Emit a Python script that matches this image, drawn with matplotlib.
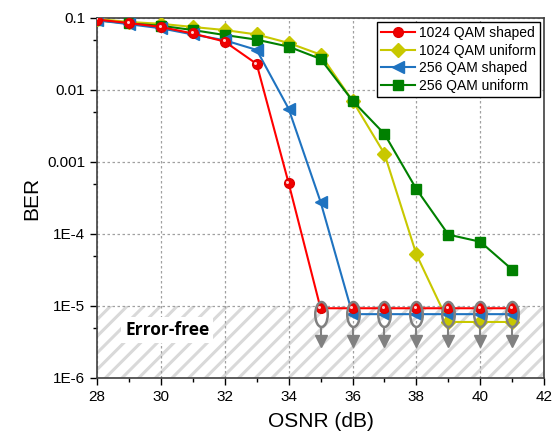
import numpy as np
import matplotlib
matplotlib.use("Agg")
import matplotlib.pyplot as plt
from matplotlib.path import Path
import matplotlib.transforms as mtransforms

plt.rcParams['font.family'] = ['Liberation Sans', 'DejaVu Sans']
plt.rcParams['hatch.linewidth'] = 2.2
plt.rcParams['hatch.color'] = '#d9d9d9'

# data
osnr = [28, 29, 30, 31, 32, 33, 34, 35, 36, 37, 38, 39, 40, 41]
ber_1024_shaped = [0.095, 0.085, 0.075, 0.061, 0.047, 0.023, 5.1e-4,
                   9.3e-6, 9.3e-6, 9.3e-6, 9.3e-6, 9.3e-6, 9.3e-6, 9.3e-6]
ber_1024_uniform = [0.097, 0.088, 0.083, 0.075, 0.068, 0.059, 0.045, 0.031,
                    0.0071, 0.0013, 5.2e-5, 6.0e-6, 6.0e-6, 6.0e-6]
ber_256_shaped = [0.093, 0.082, 0.072, 0.059, 0.049, 0.036, 0.0055, 2.8e-4,
                  7.7e-6, 7.7e-6, 7.7e-6, 7.7e-6, 7.7e-6, 7.7e-6]
ber_256_uniform = [0.093, 0.084, 0.078, 0.068, 0.058, 0.050, 0.040, 0.027,
                   0.0071, 0.00245, 4.2e-4, 9.8e-5, 7.8e-5, 3.2e-5]

# error-free markers (ellipse + down arrow)
free_x = [35, 36, 37, 38, 39, 40, 41]
ellipse_y = 7.7e-6
arrow_top = 5.1e-6
arrow_tip = 3.3e-6

xticks = [28, 30, 32, 34, 36, 38, 40, 42]
yticks = [1e-6, 1e-5, 1e-4, 1e-3, 1e-2, 1e-1]
ytick_labels = ['1E-6', '1E-5', '1E-4', '0.001', '0.01', '0.1']

fig = plt.figure(figsize=(5.57, 4.45), dpi=100)
ax = fig.add_axes([0.174, 0.1506, 0.803, 0.809])
ax.set_yscale('log')
ax.set_xlim(28, 42)
ax.set_ylim(1e-6, 0.1)

# hatched error-free band
ax.axhspan(1e-6, 1e-5, facecolor='white', edgecolor='#d9d9d9', hatch='//',
           linewidth=0, zorder=0.2)
ax.text(30.2, 4.6e-6, 'Error-free', family=['Open Sans', 'DejaVu Sans'],
        fontweight='bold', fontsize=12.5, ha='center', va='center',
        bbox=dict(facecolor='white', edgecolor='none', pad=3), zorder=3)

ax.plot(osnr, ber_1024_shaped, color='#ff0000', marker='o', ms=7,
        mfc='#f00000', mec='#e00000', lw=1.5, label='1024 QAM shaped', zorder=6)
# small highlight on the red balls
shift = ax.transData + mtransforms.ScaledTranslation(-0.012, 0.012, fig.dpi_scale_trans)
ax.plot(osnr, ber_1024_shaped, ls='none', marker='o', ms=2.2,
        mfc='#ffd0d0', mec='none', zorder=6.5, transform=shift)
ax.plot(osnr, ber_1024_uniform, color='#c8c800', marker='D', ms=7,
        lw=1.5, label='1024 QAM uniform', zorder=4)
ax.plot(osnr, ber_256_shaped, color='#1f73c0', marker='<', ms=8,
        lw=1.5, label='256 QAM shaped', zorder=5)
ax.plot(osnr, ber_256_uniform, color='#008000', marker='s', ms=7,
        lw=1.5, label='256 QAM uniform', zorder=4.5)

# gray ellipses and arrows
ell = mtransforms.Affine2D().scale(0.5, 1.0).transform_path(Path.unit_circle())
ax.plot(free_x, [ellipse_y] * len(free_x), ls='none', marker=ell, ms=18,
        mfc='none', mec='#808080', mew=1.8, zorder=7)
for x in free_x:
    ax.plot([x, x], [arrow_top, arrow_tip], color='#808080', lw=1.5, zorder=7)
ax.plot(free_x, [arrow_tip] * len(free_x), ls='none', marker='v', ms=9,
        color='#808080', zorder=7)

ax.set_xticks(xticks)
ax.set_xticks(np.arange(29, 42, 2), minor=True)
ax.set_yticks(yticks)
ax.set_yticklabels(ytick_labels)
ax.set_yticks([5e-6, 5e-5, 5e-4, 5e-3, 5e-2], minor=True)
ax.yaxis.set_minor_formatter(plt.NullFormatter())
ax.tick_params(which='both', direction='out', labelsize=11, width=1)
ax.tick_params(which='major', length=5)
ax.tick_params(which='minor', length=3)
ax.grid(True, which='major', color='#a0a0a0', linestyle=(0, (2, 2)), lw=0.9)
ax.set_axisbelow(True)
for s in ax.spines.values():
    s.set_linewidth(1.2)
    s.set_color('#404040')

ax.set_xlabel('OSNR (dB)', fontsize=15, labelpad=6)
ax.set_ylabel('BER', fontsize=15, labelpad=4)

leg = ax.legend(loc='upper right', fontsize=10, fancybox=False,
                edgecolor='black', framealpha=1, handlelength=2.4,
                borderpad=0.3, labelspacing=0.25, handletextpad=0.3,
                borderaxespad=0.3)
leg.get_frame().set_linewidth(1.0)

fig.savefig('out.png', dpi=100)
